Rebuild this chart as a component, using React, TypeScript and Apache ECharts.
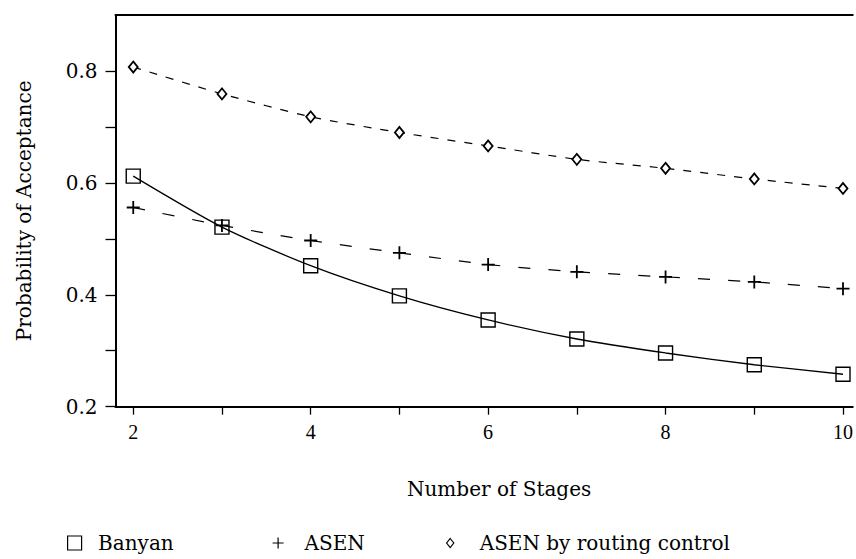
import React, { useEffect, useRef } from "react";
import * as echarts from "echarts";

const stages = [2, 3, 4, 5, 6, 7, 8, 9, 10];
const banyan = [0.612, 0.521, 0.452, 0.398, 0.355, 0.321, 0.296, 0.275, 0.258];
const asen = [0.556, 0.524, 0.497, 0.475, 0.454, 0.441, 0.432, 0.423, 0.411];
const asenRouting = [0.807, 0.759, 0.718, 0.69, 0.666, 0.642, 0.626, 0.607, 0.59];
const xTickValues = [2, 3, 4, 5, 6, 7, 8, 9, 10];
const xLabelValues = [2, 4, 6, 8, 10];
const yTickValues = [0.2, 0.3, 0.4, 0.5, 0.6, 0.7, 0.8];
const yLabelValues = [0.2, 0.4, 0.6, 0.8];
const seriesNames = ["Banyan", "ASEN", "ASEN by routing control"];

const SERIF = "DejaVu Serif";
const PLUS = "path://M0,5L10,5M5,0L5,10";
const SQUARE = "path://M0,0L10,0L10,10L0,10Z";
const DIAMOND = "path://M4,0L8,5L4,10L0,5Z";

export default function App() {
  const ref = useRef<HTMLDivElement>(null);
  useEffect(() => {
    if (!ref.current) return;
    const chart = echarts.init(ref.current, undefined, { renderer: "svg" });
    const pairs = (ys: number[]) => stages.map((x, i) => [x, ys[i]]);
    const hollow = { color: "rgba(0,0,0,0)", borderColor: "#000", borderWidth: 1.4 };
    const legendBase = (left: number, name: string, icon: string, w: number, h: number) => ({
      left,
      top: 533,
      padding: 0,
      data: [{ name, icon }],
      itemWidth: w,
      itemHeight: h,
      itemStyle: { color: "rgba(0,0,0,0)", borderColor: "#000", borderWidth: 1.2 },
      lineStyle: { opacity: 0 },
      textStyle: { fontFamily: SERIF, fontSize: 20, color: "#000" },
      selectedMode: false,
    });
    chart.setOption({
      animation: false,
      backgroundColor: "#fff",
      grid: { left: 115.5, right: 1, top: 15, bottom: 152.3 },
      legend: [
        legendBase(67, seriesNames[0], SQUARE, 37, 14),
        legendBase(272, seriesNames[1], PLUS, 43, 11),
        legendBase(446, seriesNames[2], DIAMOND, 49, 9),
      ],
      xAxis: [
        {
          type: "value",
          min: 1.8,
          max: 10.11,
          name: "Number of Stages",
          nameLocation: "middle",
          nameGap: 72,
          nameTextStyle: { fontFamily: SERIF, fontSize: 20, color: "#000", padding: [0, 0, 0, 30] },
          axisLine: { show: true, onZero: false, lineStyle: { color: "#000", width: 2 } },
          axisTick: { show: true, length: 8, customValues: xTickValues, lineStyle: { color: "#000", width: 1.3 } },
          axisLabel: {
            customValues: xLabelValues,
            margin: 15,
            fontFamily: "Liberation Serif",
            fontSize: 20,
            color: "#000",
            formatter: (v: number) => String(v),
          },
          splitLine: { show: false },
        },
        {
          type: "value",
          position: "top",
          min: 1.8,
          max: 10.11,
          axisLine: { show: true, onZero: false, lineStyle: { color: "#000", width: 2 } },
          axisTick: { show: false },
          axisLabel: { show: false },
          splitLine: { show: false },
        },
      ],
      yAxis: {
        type: "value",
        min: 0.2,
        max: 0.9,
        name: "Probability of Acceptance",
        nameLocation: "middle",
        nameGap: 82,
        nameRotate: 90,
        nameTextStyle: { fontFamily: SERIF, fontSize: 20, color: "#000" },
        axisLine: { show: true, onZero: false, lineStyle: { color: "#000", width: 2 } },
        axisTick: { show: true, length: 10, customValues: yTickValues, lineStyle: { color: "#000", width: 1.3 } },
        axisLabel: {
          customValues: yLabelValues,
          margin: 18,
          fontFamily: SERIF,
          fontSize: 20,
          color: "#000",
          formatter: (v: number) => v.toFixed(1),
        },
        splitLine: { show: false },
      },
      series: [
        {
          name: seriesNames[2],
          type: "line",
          data: pairs(asenRouting),
          smooth: 0.2,
          symbol: DIAMOND,
          symbolSize: [9, 11],
          lineStyle: { color: "#000", width: 1.2, type: [8, 9] },
          itemStyle: { ...hollow, color: "#fff", borderWidth: 1.8 },
          z: 2,
        },
        {
          name: seriesNames[1],
          type: "line",
          data: pairs(asen),
          smooth: 0.2,
          symbol: PLUS,
          symbolSize: 13,
          lineStyle: { color: "#000", width: 1.2, type: [12, 18] },
          itemStyle: { ...hollow, borderWidth: 1.8 },
          z: 3,
        },
        {
          name: seriesNames[0],
          type: "line",
          data: pairs(banyan),
          smooth: 0.25,
          symbol: SQUARE,
          symbolSize: 14,
          lineStyle: { color: "#000", width: 1.3, type: "solid" },
          itemStyle: hollow,
          z: 4,
        },
      ],
    });
    return () => chart.dispose();
  }, []);
  return <div ref={ref} style={{ width: 856, height: 559, position: "absolute", left: 0, top: 0 }} />;
}
